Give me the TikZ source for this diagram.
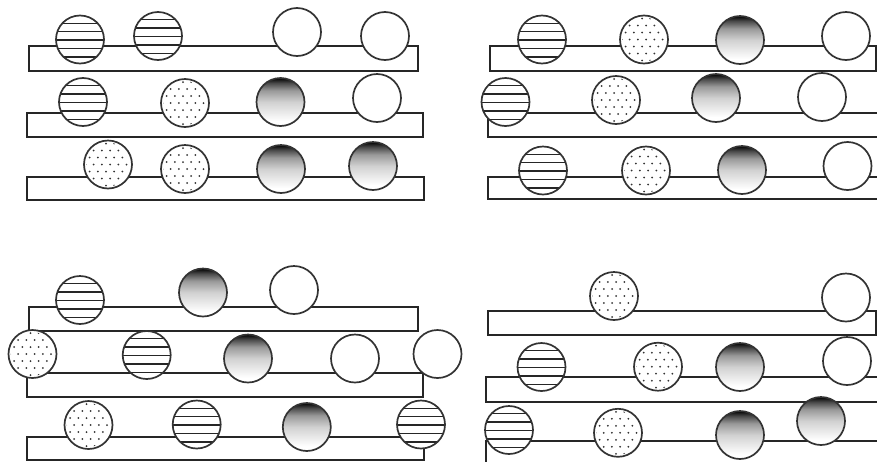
\documentclass[tikz,border=0pt]{standalone}
\pgfdeclareverticalshading{ballgrad}{100bp}{color(0bp)=(white); color(30bp)=(white); color(50bp)=(black!18); color(62bp)=(black!40); color(70bp)=(black!72); color(75bp)=(black); color(100bp)=(black)}
\begin{document}
\begin{tikzpicture}[x=1pt,y=-1pt,
  bar/.style={draw=black!85,line width=1.7pt,fill=white},
  rim/.style={draw=black!80,line width=1.7pt},
  whiteball/.pic={\draw[rim,fill=white] (0,0) circle (24pt);},
  stripeball/.pic={
    \fill[white] (0,0) circle (24pt);
    \begin{scope}
      \clip (0,0) circle (24pt);
      \foreach \k in {-2,...,2}{\draw[black!85,line width=1.4pt] (-26,\k*8.4+0.5) -- (26,\k*8.4+0.5);}
    \end{scope}
    \draw[rim] (0,0) circle (24pt);},
  dotball/.pic={
    \fill[white] (0,0) circle (24pt);
    \begin{scope}
      \clip (0,0) circle (22pt);
      \foreach \j in {-3,...,3}{
        \foreach \i in {-3,...,3}{
          \pgfmathsetmacro\xx{\i*8.2+mod(\j+3,2)*4.1-2}
          \fill[black!80] (\xx,\j*7) circle (1pt);
        }
      }
    \end{scope}
    \draw[rim] (0,0) circle (24pt);},
  gradball/.pic={
    \shade[shading=ballgrad] (0,0) circle (24pt);
    \draw[rim] (0,0) circle (24pt);}
]
\useasboundingbox (0,0) rectangle (877,461);
\clip (0,0) rectangle (877,461);

% ---------- top left ----------
\draw[bar] (29,46) rectangle (418,71);
\draw[bar] (27,113) rectangle (423,137);
\draw[bar] (27,177) rectangle (424,200);
\pic at (80,39.5) {stripeball};
\pic at (158,36) {stripeball};
\pic at (297,32) {whiteball};
\pic at (385,36) {whiteball};
\pic at (83,102) {stripeball};
\pic at (185,103) {dotball};
\pic at (280.5,102) {gradball};
\pic at (377,98) {whiteball};
\pic at (108,164.5) {dotball};
\pic at (185,169) {dotball};
\pic at (281,169) {gradball};
\pic at (373,166) {gradball};

% ---------- top right ----------
\draw[bar] (490,46) rectangle (876,71);
\draw[bar] (488,113) rectangle (895,137);
\draw[bar] (488,177) rectangle (895,199);
\pic at (542,39.5) {stripeball};
\pic at (644,39.5) {dotball};
\pic at (740,40) {gradball};
\pic at (846,36) {whiteball};
\pic at (505.5,102) {stripeball};
\pic at (616,100) {dotball};
\pic at (716,98) {gradball};
\pic at (822,97) {whiteball};
\pic at (543,170.5) {stripeball};
\pic at (646,170.5) {dotball};
\pic at (742,170) {gradball};
\pic at (847.5,166) {whiteball};

% ---------- bottom left ----------
\draw[bar] (29,306.7) rectangle (418,330.7);
\draw[bar] (27,372.7) rectangle (423,396.7);
\draw[bar] (27,437) rectangle (424,460);
\pic at (80,300) {stripeball};
\pic at (203,292.5) {gradball};
\pic at (294,290) {whiteball};
\pic at (32.5,354) {dotball};
\pic at (146.7,355) {stripeball};
\pic at (248,358.5) {gradball};
\pic at (355,358.5) {whiteball};
\pic at (437.5,354) {whiteball};
\pic at (88.5,425) {dotball};
\pic at (196.7,424.5) {stripeball};
\pic at (306.8,427) {gradball};
\pic at (421,424.5) {stripeball};

% ---------- bottom right ----------
\draw[bar] (487.7,310.7) rectangle (876,335);
\draw[bar] (486,376.7) rectangle (895,401.7);
\draw[bar] (486,441) rectangle (895,475);
\pic at (614,296) {dotball};
\pic at (846,297.5) {whiteball};
\pic at (541.5,367) {stripeball};
\pic at (658,366.7) {dotball};
\pic at (740,367) {gradball};
\pic at (847,361) {whiteball};
\pic at (509,430) {stripeball};
\pic at (618,432.8) {dotball};
\pic at (740,435) {gradball};
\pic at (821,421) {gradball};
\end{tikzpicture}
\end{document}
